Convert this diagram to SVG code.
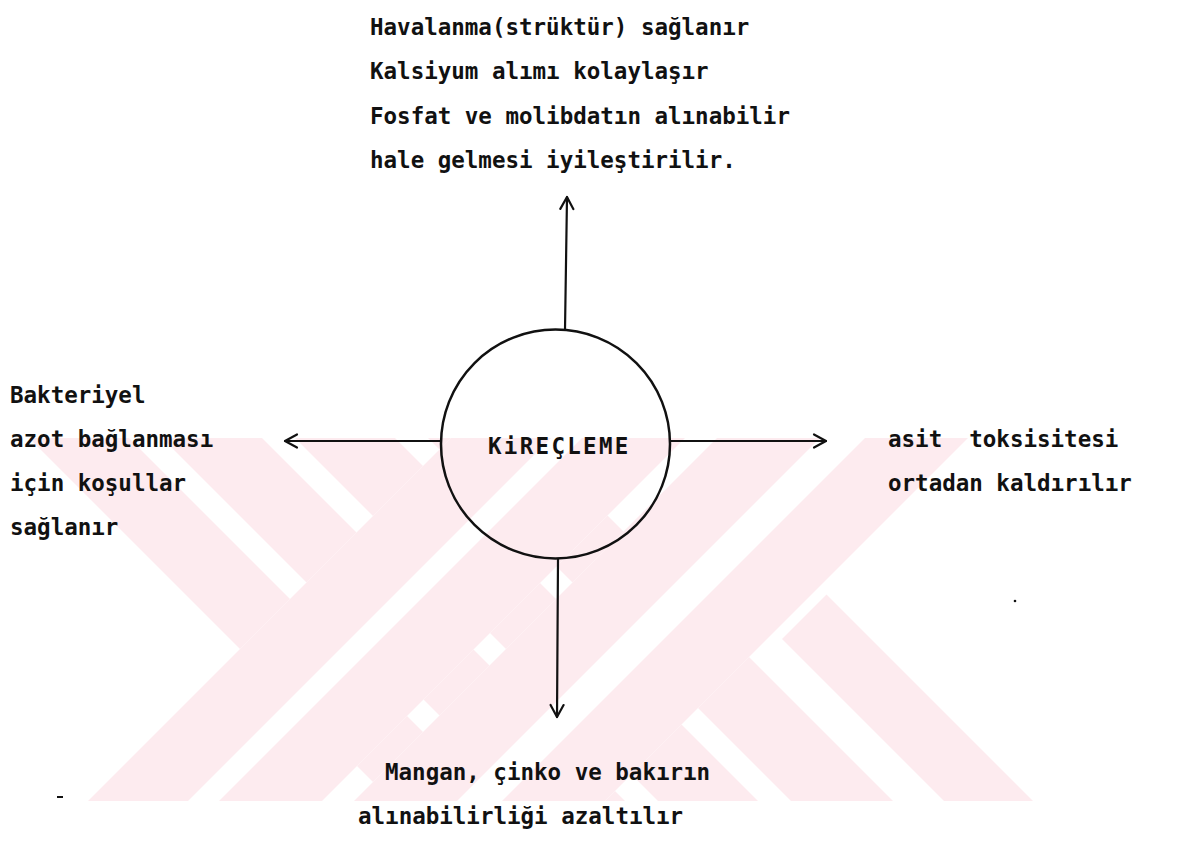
<svg xmlns="http://www.w3.org/2000/svg" width="1189" height="847" viewBox="0 0 1189 847">
  <defs>
    <style>
      .t { font-family: "DejaVu Sans Mono", "Liberation Mono", monospace; font-size: 22.5px; font-weight: bold; fill: #111; white-space: pre; }
      .wm { fill: #fdebef; }
      .ww { fill: #ffffff; }
      .ln { fill: none; stroke: #111; stroke-width: 2.2; stroke-linecap: round; }
    </style>
    <clipPath id="wmclip"><rect x="0" y="438" width="1189" height="363"/></clipPath>
    <marker id="arr" viewBox="0 0 16 16" refX="14" refY="8" markerWidth="16" markerHeight="16" markerUnits="userSpaceOnUse" orient="auto">
      <path d="M2,1.5 L14,8 L2,14.5" fill="none" stroke="#111" stroke-width="2.2" stroke-linecap="round" stroke-linejoin="round"/>
    </marker>
  </defs>
  <rect width="1189" height="847" fill="#ffffff"/>

  <g id="watermark" clip-path="url(#wmclip)">
    <!-- "\" stripes (x - y = v) -->
    <polygon class="wm" points="-9,400 91,400 531,840 431,840"/>
    <polygon class="wm" points="124,400 224,400 664,840 564,840"/>
    <polygon class="wm" points="257,400 357,400 797,840 697,840"/>
    <polygon class="wm" points="390,400 492,400 932,840 830,840"/>
    <polygon class="wm" points="782,639 826.5,594.5 1072,840 983,840"/>
    <!-- "/" stripes (x + y = u), left X -->
    <polygon class="ww" points="489,400 723,400 283,840 49,840"/>
    <polygon class="wm" points="489,400 589,400 149,840 49,840"/>
    <polygon class="wm" points="620,400 723,400 283,840 180,840"/>
    <!-- "/" stripes, right X -->
    <polygon class="ww" points="755,400 1006,400 566,840 315,840"/>
    <polygon class="wm" points="755,400 858,400 418,840 315,840"/>
    <polygon class="wm" points="903,400 1006,400 566,840 463,840"/>
  </g>

  <g id="connectors">
    <path class="ln" d="M565,330 L567,197" marker-end="url(#arr)"/>
    <path class="ln" d="M558,559 L557,717" marker-end="url(#arr)"/>
    <path class="ln" d="M441,441 L285,441" marker-end="url(#arr)"/>
    <path class="ln" d="M670,441 L826,441" marker-end="url(#arr)"/>
  </g>

  <g id="node-center">
    <circle cx="555.5" cy="444" r="114.5" fill="none" stroke="#111" stroke-width="2.5"/>
    <text class="t" x="488" y="454" style="letter-spacing:2.3px">KiREÇLEME</text>
  </g>

  <g id="node-top">
    <text class="t" x="370" y="35">Havalanma(strüktür) sağlanır</text>
    <text class="t" x="370" y="79">Kalsiyum alımı kolaylaşır</text>
    <text class="t" x="370" y="124">Fosfat ve molibdatın alınabilir</text>
    <text class="t" x="370" y="168">hale gelmesi iyileştirilir.</text>
  </g>

  <g id="node-left">
    <text class="t" x="10" y="403">Bakteriyel</text>
    <text class="t" x="10" y="447">azot bağlanması</text>
    <text class="t" x="10" y="491">için koşullar</text>
    <text class="t" x="10" y="535">sağlanır</text>
  </g>

  <g id="node-right">
    <text class="t" x="888" y="447">asit  toksisitesi</text>
    <text class="t" x="888" y="491">ortadan kaldırılır</text>
  </g>

  <g id="node-bottom">
    <text class="t" x="385" y="780">Mangan, çinko ve bakırın</text>
    <text class="t" x="358" y="824">alınabilirliği azaltılır</text>
  </g>

  <g id="specks" fill="#111">
    <rect x="57" y="796" width="6" height="2"/>
    <circle cx="1015" cy="601" r="1.3"/>
  </g>
</svg>
